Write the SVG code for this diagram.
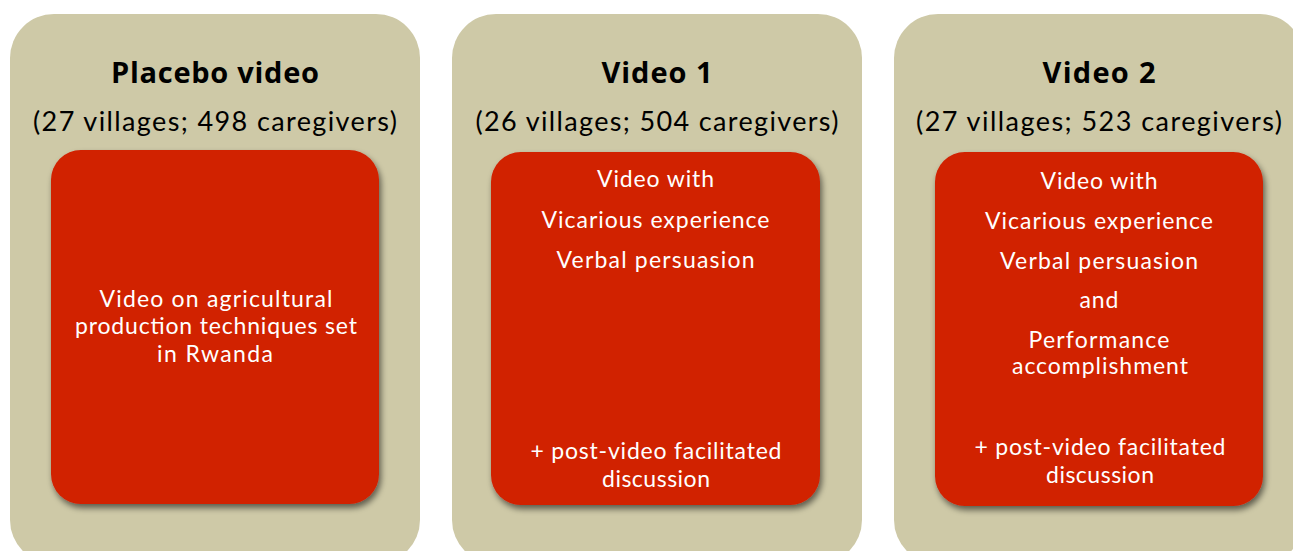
<svg xmlns="http://www.w3.org/2000/svg" width="1293" height="551" viewBox="0 0 1293 551">
  <defs>
    <filter id="sh" x="-10%" y="-10%" width="125%" height="125%">
      <feGaussianBlur in="SourceAlpha" stdDeviation="3"/>
      <feOffset dx="2" dy="4" result="b"/>
      <feComponentTransfer><feFuncA type="linear" slope="0.55"/></feComponentTransfer>
      <feMerge><feMergeNode/><feMergeNode in="SourceGraphic"/></feMerge>
    </filter>
    <style>
      .outer { fill: #CEC9A7; }
      .inner { fill: #D12000; filter: url(#sh); }
      .title { font-family: "Open Sans", Lato, "Liberation Sans", sans-serif; font-weight: bold; font-size: 29px; fill: #000; text-anchor: middle; }
      .sub { font-family: Lato, "Liberation Sans", sans-serif; font-size: 27px; fill: #000; text-anchor: middle; }
      .body { font-family: Lato, "Liberation Sans", sans-serif; font-size: 23px; fill: #fff; text-anchor: middle; }
    </style>
  </defs>
  <rect width="1293" height="551" fill="#fff"/>
  <g id="placebo">
    <rect class="outer" x="10" y="14" width="410" height="550" rx="44"/>
    <text class="title" x="215" y="83" textLength="208" lengthAdjust="spacing">Placebo video</text>
    <text class="sub" x="215" y="131" textLength="364" lengthAdjust="spacing">(27 villages; 498 caregivers)</text>
    <rect class="inner" x="51" y="150" width="328" height="354" rx="30"/>
    <text class="body" x="216" y="307" textLength="233" lengthAdjust="spacing">Video on agricultural</text>
    <text class="body" x="216" y="334" textLength="282" lengthAdjust="spacing">production techniques set</text>
    <text class="body" x="215" y="362" textLength="116" lengthAdjust="spacing">in Rwanda</text>
  </g>
  <g id="video1">
    <rect class="outer" x="452" y="14" width="410" height="550" rx="44"/>
    <text class="title" x="657" y="83" textLength="111" lengthAdjust="spacing">Video 1</text>
    <text class="sub" x="657" y="131" textLength="363" lengthAdjust="spacing">(26 villages; 504 caregivers)</text>
    <rect class="inner" x="491" y="152" width="329" height="353" rx="30"/>
    <text class="body" x="655.5" y="187" textLength="117" lengthAdjust="spacing">Video with</text>
    <text class="body" x="655.5" y="228" textLength="228" lengthAdjust="spacing">Vicarious experience</text>
    <text class="body" x="655.5" y="268" textLength="198" lengthAdjust="spacing">Verbal persuasion</text>
    <text class="body" x="656" y="459" textLength="251" lengthAdjust="spacing">+ post-video facilitated</text>
    <text class="body" x="656" y="487" textLength="108" lengthAdjust="spacing">discussion</text>
  </g>
  <g id="video2">
    <rect class="outer" x="894" y="14" width="410" height="550" rx="44"/>
    <text class="title" x="1099" y="83" textLength="113" lengthAdjust="spacing">Video 2</text>
    <text class="sub" x="1099" y="131" textLength="366" lengthAdjust="spacing">(27 villages; 523 caregivers)</text>
    <rect class="inner" x="935" y="152" width="328" height="354" rx="30"/>
    <text class="body" x="1099" y="189" textLength="117" lengthAdjust="spacing">Video with</text>
    <text class="body" x="1099" y="229" textLength="228" lengthAdjust="spacing">Vicarious experience</text>
    <text class="body" x="1099" y="269" textLength="198" lengthAdjust="spacing">Verbal persuasion</text>
    <text class="body" x="1099" y="308" textLength="39" lengthAdjust="spacing">and</text>
    <text class="body" x="1099" y="348" textLength="141" lengthAdjust="spacing">Performance</text>
    <text class="body" x="1100" y="374" textLength="176" lengthAdjust="spacing">accomplishment</text>
    <text class="body" x="1100" y="455" textLength="251" lengthAdjust="spacing">+ post-video facilitated</text>
    <text class="body" x="1100" y="483" textLength="108" lengthAdjust="spacing">discussion</text>
  </g>
  <g id="connectors"/>
</svg>
